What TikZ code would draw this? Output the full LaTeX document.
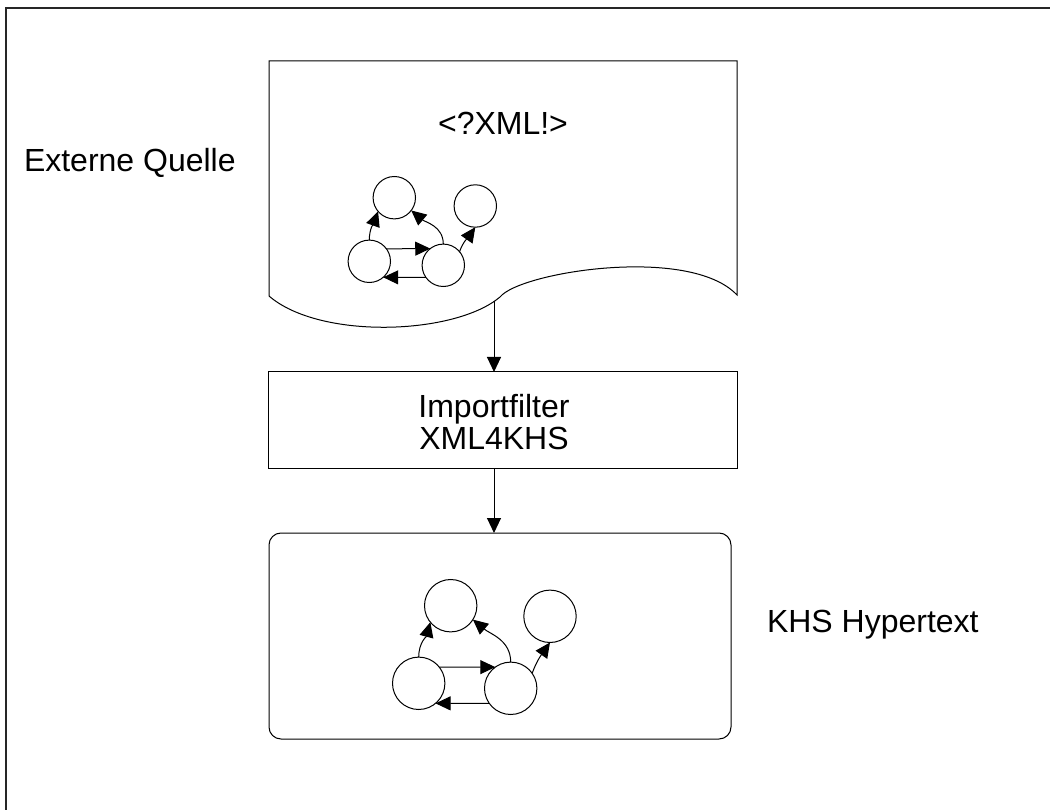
\documentclass[tikz,border=0pt]{standalone}
\usepackage{fontspec}
\setmainfont{Liberation Sans}
\usetikzlibrary{arrows.meta}
\begin{document}
\begin{tikzpicture}[x=1pt,y=1pt,
  lbl/.style={font=\fontsize{32}{32}\selectfont, inner sep=0pt, outer sep=0pt},
  arr/.style={-{Triangle[length=15pt,width=14pt]}, line width=1pt},
  gnode/.style={draw, circle, line width=1pt, inner sep=0pt, outer sep=0pt},
  small/.style={gnode, minimum size=42.4pt},
  big/.style={gnode, minimum size=52.4pt},
  boxline/.style={draw, line width=1pt, inner sep=0pt, outer sep=0pt}]
\useasboundingbox (0,0) rectangle (1050,-810);
% frame
\draw[line width=2pt, black!85] (6,-810) -- (6,-8) -- (1050,-8);
% document shape
\draw[line width=1pt] (269,-296) -- (269,-61) -- (737,-61) -- (737,-295)
  .. controls (690,-245) and (520,-272) .. (500,-297)
  .. controls (455,-335) and (320,-340) .. (269,-296) -- cycle;
\coordinate (docout) at (494,-301.5);
\node[lbl, anchor=base] (xml) at (503,-135) {<?XML!>};
\node[lbl, anchor=base west] (ext) at (24,-172) {Externe Quelle};
% top graph
\node[small] (a1) at (394.3,-197.7) {};
\node[small] (b1) at (475.3,-206) {};
\node[small] (c1) at (369.3,-261.3) {};
\node[small] (d1) at (443.3,-265.3) {};
\draw[arr] (c1.36) -- (d1.128);
\draw[arr] (d1.215) -- (c1.-49);
\draw[arr] (c1.north) to[out=90,in=250] (a1.220);
\draw[arr] (d1.north) to[out=90,in=-40] (a1.-37);
\draw[arr] (d1.40) to[out=70,in=235] (b1.south);
% import filter
\node[boxline, minimum width=469pt, minimum height=96pt] (filter) at (502.5,-420) {};
\node[lbl, align=center] (ftext) at (494,-422.3) {Importfilter\\XML4KHS};
% KHS box
\node[boxline, rounded corners=12pt, minimum width=462pt, minimum height=206pt] (khs) at (500,-636) {};
\node[lbl, anchor=base west] (khslbl) at (767,-632) {KHS Hypertext};
% bottom graph
\node[big] (a2) at (450.7,-605.7) {};
\node[big] (b2) at (550,-616.3) {};
\node[big] (c2) at (418.7,-683.3) {};
\node[big] (d2) at (510.7,-688.3) {};
\draw[arr] (c2.38) -- (d2.126);
\draw[arr] (d2.215) -- (c2.-50);
\draw[arr] (c2.north) to[out=90,in=255] (a2.219);
\draw[arr] (d2.north) to[out=90,in=-40] (a2.-32);
\draw[arr] (d2.35) to[out=70,in=235] (b2.south);
% main connectors
\draw[arr] (docout) -- (docout |- filter.north);
\draw[arr] (docout |- filter.south) -- (docout |- khs.north);
\end{tikzpicture}
\end{document}
